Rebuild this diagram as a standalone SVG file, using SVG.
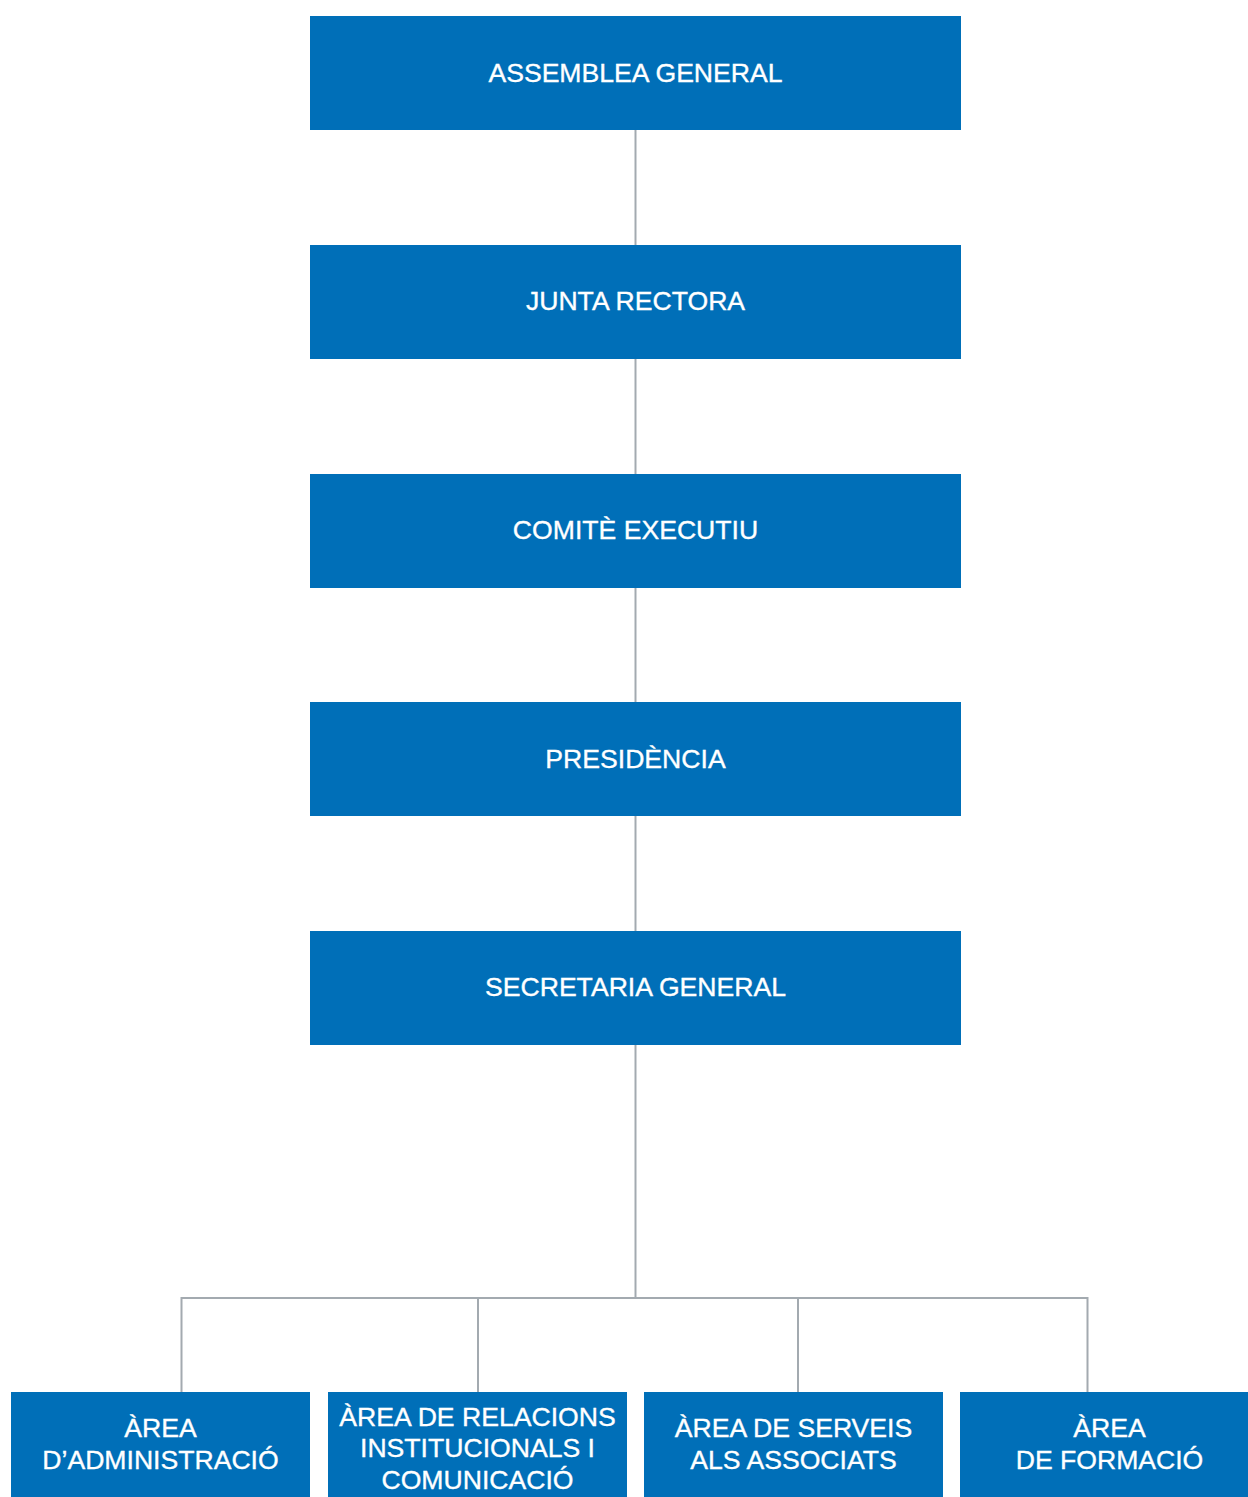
<svg xmlns="http://www.w3.org/2000/svg" width="1248" height="1497" viewBox="0 0 1248 1497">
<style>
.box{fill:#006fb8}
.lbl{font-family:"Liberation Sans",Arial,sans-serif;font-size:26.6px;fill:#fff;text-anchor:middle;stroke:#fff;stroke-width:0.35px}
.con{stroke:#a3aab0;stroke-width:2;fill:none}
</style>
<rect width="1248" height="1497" fill="#fff"/>
<g id="connectors">
<line class="con" x1="635.5" y1="130" x2="635.5" y2="245"/>
<line class="con" x1="635.5" y1="359" x2="635.5" y2="474"/>
<line class="con" x1="635.5" y1="588" x2="635.5" y2="702"/>
<line class="con" x1="635.5" y1="816" x2="635.5" y2="931"/>
<line class="con" x1="635.5" y1="1045" x2="635.5" y2="1298"/>
<polyline class="con" points="181.5,1392 181.5,1298 1087.5,1298 1087.5,1392"/>
<line class="con" x1="478" y1="1298" x2="478" y2="1392"/>
<line class="con" x1="798" y1="1298" x2="798" y2="1392"/>
</g>
<g id="assemblea"><rect class="box" x="310" y="16" width="651" height="114"/><text class="lbl" x="635.5" y="82">ASSEMBLEA GENERAL</text></g>
<g id="junta"><rect class="box" x="310" y="245" width="651" height="114"/><text class="lbl" x="635.5" y="310">JUNTA RECTORA</text></g>
<g id="comite"><rect class="box" x="310" y="474" width="651" height="114"/><text class="lbl" x="635.5" y="539">COMITÈ EXECUTIU</text></g>
<g id="presidencia"><rect class="box" x="310" y="702" width="651" height="114"/><text class="lbl" x="635.5" y="768">PRESIDÈNCIA</text></g>
<g id="secretaria"><rect class="box" x="310" y="931" width="651" height="114"/><text class="lbl" x="635.5" y="996">SECRETARIA GENERAL</text></g>
<g id="administracio"><rect class="box" x="11" y="1392" width="299" height="105"/><text class="lbl" x="160.5" y="1437">ÀREA</text><text class="lbl" x="160.5" y="1469">D’ADMINISTRACIÓ</text></g>
<g id="relacions"><rect class="box" x="328" y="1392" width="299" height="105"/><text class="lbl" x="477.5" y="1426">ÀREA DE RELACIONS</text><text class="lbl" x="477.5" y="1457">INSTITUCIONALS I</text><text class="lbl" x="477.5" y="1489">COMUNICACIÓ</text></g>
<g id="serveis"><rect class="box" x="644" y="1392" width="299" height="105"/><text class="lbl" x="793.5" y="1437">ÀREA DE SERVEIS</text><text class="lbl" x="793.5" y="1469">ALS ASSOCIATS</text></g>
<g id="formacio"><rect class="box" x="960" y="1392" width="288" height="105"/><text class="lbl" x="1109.5" y="1437">ÀREA</text><text class="lbl" x="1109.5" y="1469">DE FORMACIÓ</text></g>
</svg>
